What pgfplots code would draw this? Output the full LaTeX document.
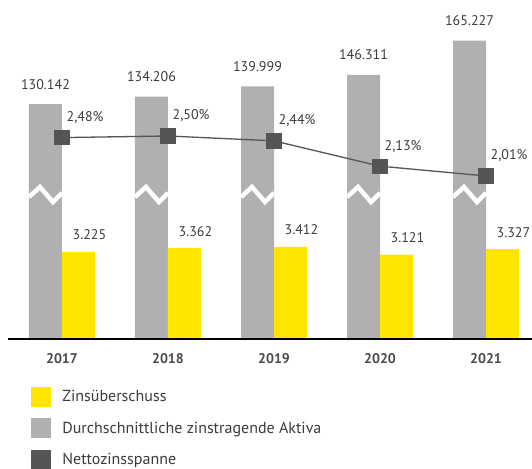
\documentclass[border=0pt]{standalone}
\usepackage{fontspec}
\setmainfont{PT Sans}
\usepackage{pgfplots}
\pgfplotsset{compat=1.18}
\definecolor{eyyellow}{HTML}{FFE600}
\definecolor{eygrey}{HTML}{B0B0B2}
\definecolor{eydark}{HTML}{555555}
\definecolor{txt}{HTML}{3C3C3C}
\definecolor{yeartxt}{HTML}{4A4A4A}
\tikzset{lbl/.style={font=\fontsize{14bp}{16bp}\selectfont, text=txt, inner sep=0pt}}
\begin{document}
\begin{tikzpicture}
\pgfplotsset{
  base/.style={scale only axis, width=524bp, height=339bp, xmin=-0.5094, xmax=4.434,
    clip=false, xtick=\empty, ytick=\empty},
  brk/.style={white, line width=4.5bp, line join=miter, no marks, forget plot},
}
% grey bars: Durchschnittliche zinstragende Aktiva
\begin{axis}[base, hide axis, ymin=0, ymax=187.8]
\addplot[ybar, bar width=33bp, bar shift=0pt, fill=eygrey, draw=none,
  nodes near coords,
  nodes near coords style={lbl, anchor=base, yshift=15bp,
    /pgf/number format/.cd, fixed, fixed zerofill, precision=3, assume math mode=true}]
  table[x expr=\thisrow{x}-0.15566, y=v] {
x v
0 130.142
1 134.206
2 139.999
3 146.311
4 165.227
};
\end{axis}
% axis break marks (heights in bp above the baseline)
\begin{axis}[base, hide axis, ymin=0, ymax=339]
\addplot[brk] coordinates {(-0.3113,142) (-0.2075,152) (-0.085,137) (0,146)};
\addplot[brk] coordinates {(0.6887,142) (0.7925,152) (0.915,137) (1,146)};
\addplot[brk] coordinates {(1.6887,142) (1.7925,152) (1.915,137) (2,146)};
\addplot[brk] coordinates {(2.6887,142) (2.7925,152) (2.915,137) (3,146)};
\addplot[brk] coordinates {(3.6887,142) (3.7925,152) (3.915,137) (4,146)};
\end{axis}
% yellow bars: Zinsüberschuss
\begin{axis}[base, hide axis, ymin=0, ymax=12.556]
\addplot[ybar, bar width=33bp, bar shift=0pt, fill=eyyellow, draw=none,
  nodes near coords,
  nodes near coords style={lbl, anchor=base west, xshift=-6bp, yshift=12bp,
    /pgf/number format/.cd, fixed, fixed zerofill, precision=3, assume math mode=true}]
  table[x expr=\thisrow{x}+0.15566, y=v] {
x v
0 3.225
1 3.362
2 3.412
3 3.121
4 3.327
};
\end{axis}
% line: Nettozinsspanne
\begin{axis}[base, ymin=0.0123, ymax=4.166,
  axis line style={draw=none},
  xtick={0,1,2,3,4}, xticklabels={2017,2018,2019,2020,2021},
  xtick pos=bottom, major tick length=0pt, tick style={draw=none},
  xticklabel style={font=\bfseries\fontsize{14bp}{16bp}\selectfont, text=yeartxt,
    anchor=base, yshift=-24bp, inner sep=0pt},
  legend style={at={(axis description cs:0.0439,-0.1416)}, anchor=north west,
    draw=none, fill=none, inner sep=0pt, outer sep=0pt, row sep=12bp,
    font=\fontsize{16bp}{18bp}\selectfont, text=txt, nodes={inner sep=0pt},
    /tikz/every odd column/.append style={column sep=12bp}},
  legend cell align=left]
\draw[black, line width=2bp] (rel axis cs:0,0) -- (rel axis cs:1,0);
\addplot[eydark, line width=1.3bp, mark=square*, mark size=7bp,
  mark options={fill=eydark, draw=none}, forget plot,
  nodes near coords={\pgfmathprintnumber{\pgfplotspointmeta}\%},
  nodes near coords style={lbl, anchor=base west, xshift=4bp, yshift=16bp,
    /pgf/number format/.cd, fixed, fixed zerofill, precision=2, use comma, assume math mode=true}]
  coordinates {(0,2.48) (1,2.50) (2,2.44) (3,2.13) (4,2.01)};
\addlegendimage{legend image code/.code={\fill[eyyellow] (0bp,-9.5bp) rectangle (19bp,9.5bp);}}
\addlegendentry{Zinsüberschuss}
\addlegendimage{legend image code/.code={\fill[eygrey] (0bp,-9.5bp) rectangle (19bp,9.5bp);}}
\addlegendentry{Durchschnittliche zinstragende Aktiva}
\addlegendimage{legend image code/.code={\fill[eydark] (0bp,-9.5bp) rectangle (19bp,9.5bp);}}
\addlegendentry{Nettozinsspanne}
\end{axis}
\pgfresetboundingbox
\path[use as bounding box] (-8bp,-130bp) rectangle (524bp,339bp);
\end{tikzpicture}
\end{document}
